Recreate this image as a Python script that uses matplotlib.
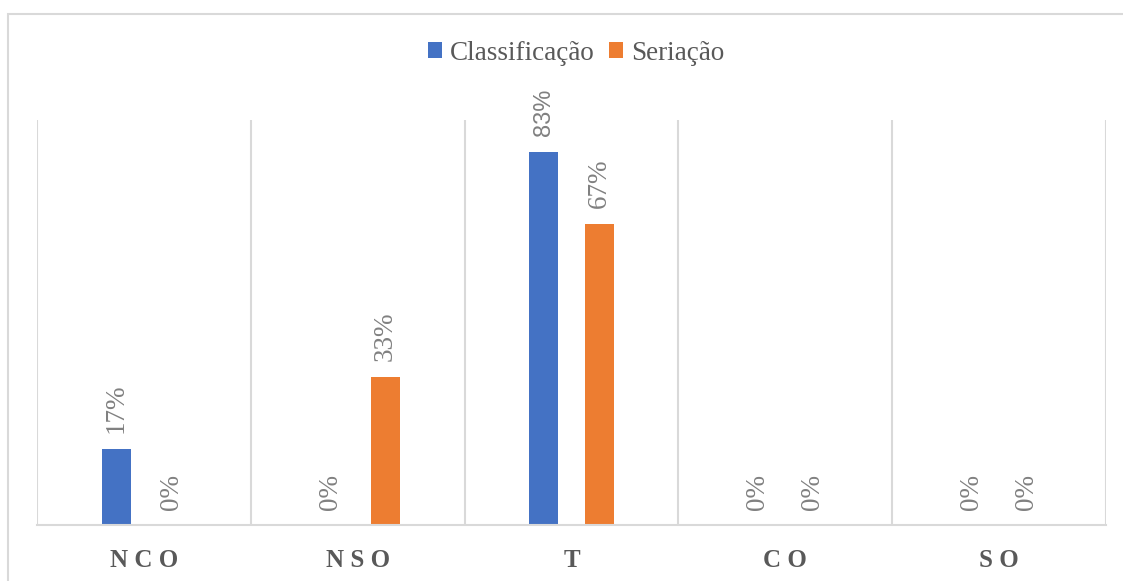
import numpy as np
import matplotlib.pyplot as plt
from matplotlib.patches import Rectangle

categorias = ['NCO', 'NSO', 'T', 'CO', 'SO']
classificacao = [0.17, 0.00, 0.83, 0.00, 0.00]
seriacao = [0.00, 0.33, 0.67, 0.00, 0.00]
series = ['Classificação', 'Seriação']

azul = '#4472C4'
laranja = '#ED7D31'
cinza_grade = '#D9D9D9'

plt.rcParams['font.family'] = ['Liberation Serif', 'DejaVu Serif']

fig = plt.figure(figsize=(11.23, 5.81), dpi=100)
ax = fig.add_axes([37/1123, 1-525/581, (1106-37)/1123, (525-120)/581])

x = np.arange(len(categorias))
larg = 0.136
desl = 0.129
b1 = ax.bar(x - desl, classificacao, larg, color=azul, label=series[0])
b2 = ax.bar(x + desl, seriacao, larg, color=laranja, label=series[1])

ax.set_xlim(-0.5, len(categorias) - 0.5)
ax.set_ylim(0, 0.9)

# rótulos de valor na vertical
for barras, vals in [(b1, classificacao), (b2, seriacao)]:
    for b, v in zip(barras, vals):
        fam = ['Liberation Sans'] if v == 0.83 else ['Liberation Serif']
        tam = 17 if v == 0.83 else 19.5
        ax.annotate('%d%%' % round(v*100), (b.get_x() + b.get_width()/2, v),
                    xytext=(0, 11), textcoords='offset points',
                    rotation=90, ha='center', va='bottom',
                    fontsize=tam, color='#808080', family=fam)

# linhas verticais entre as categorias
for xv in np.arange(-0.5, len(categorias), 1.0):
    ax.axvline(xv, color=cinza_grade, lw=1.5, zorder=0)
for s in ['top', 'left', 'right']:
    ax.spines[s].set_visible(False)
ax.spines['bottom'].set_color(cinza_grade)
ax.spines['bottom'].set_linewidth(1.5)

ax.set_yticks([])
ax.set_xticks(x)
ax.set_xticklabels([' '.join(c) for c in categorias], fontsize=18,
                   fontweight='bold', color='#595959')
ax.tick_params(axis='x', length=0, pad=17)

leg = fig.legend(loc='center', bbox_to_anchor=(0.513, 1-53/581), ncol=2,
                 frameon=False, fontsize=19.5, handlelength=0.5, handleheight=0.5,
                 handletextpad=0.3, columnspacing=0.55)
for t in leg.get_texts():
    t.set_color('#595959')

# moldura da área do gráfico
fig.patches.append(Rectangle((8/1123, -0.1), 1.2, 1-13.5/581+0.1,
                             transform=fig.transFigure, fill=False,
                             edgecolor=cinza_grade, lw=1.5))

plt.savefig('out.png', dpi=100)
